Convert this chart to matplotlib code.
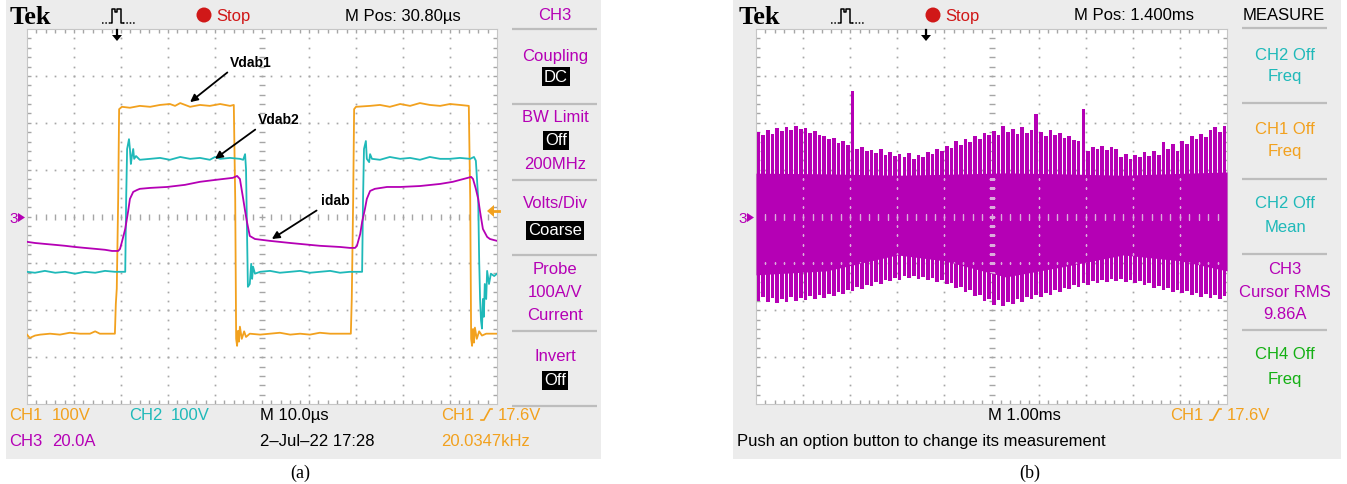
import numpy as np
import matplotlib
matplotlib.use("Agg")
import matplotlib.pyplot as plt
from matplotlib.patches import Rectangle, Circle, Polygon

# ---------------- panel (a): 10 us/div, screen spans 0..100 us ----------------
vdab1_t = [0, 0.6, 1.7, 2.8, 4.9, 7.0, 9.1, 11.3, 13.4, 14.5, 15.5, 17.7, 18.7, 18.9, 19.1, 19.4, 19.6,
           20.2, 21.9, 24.0, 26.2, 28.3, 30.4, 31.5, 32.6, 34.7, 36.8, 38.9, 41.1, 43.2, 44.0,
           44.3, 44.5, 44.7, 44.9, 45.1, 45.3, 45.7, 46.2, 46.6, 47.4, 49.6, 51.7, 53.8, 56.0, 58.1,
           60.2, 62.3, 64.5, 66.6, 68.9,
           69.1, 69.4, 69.6, 70.0, 73.0, 75.1, 77.2, 79.4, 81.5, 83.6, 85.7, 87.9, 90.0, 92.1, 94.0,
           94.3, 94.5, 94.7, 94.9, 95.1, 95.3, 95.7, 96.2, 96.8, 97.7, 100.0]
vdab1_v = [-245, -252, -247, -245, -243, -245, -241, -243, -243, -238, -243, -243, -243, -179, -147, 45, 236,
           241, 239, 243, 241, 245, 247, 243, 249, 241, 245, 243, 247, 243, 245,
           45, -254, -269, -237, -260, -228, -254, -238, -250, -243, -245, -243, -241, -245, -243,
           -245, -241, -243, -243, -243,
           -169, 45, 236, 241, 243, 245, 241, 247, 243, 249, 245, 243, 247, 245, 243,
           45, -254, -269, -233, -262, -230, -254, -238, -247, -243, -243]

vdab2_t = [0, 1.7, 3.8, 6.0, 8.1, 10.2, 12.3, 14.5, 16.6, 18.7, 20.9,
           21.1, 21.3, 21.7, 21.9, 22.1, 22.3, 22.6, 22.8, 23.2, 24.0, 26.2, 28.3, 30.4, 32.6, 34.7,
           36.8, 38.9, 40.0, 41.1, 43.2, 45.3, 46.0,
           46.4, 46.6, 46.8, 47.0, 47.4, 47.7, 47.9, 48.1, 48.5, 49.6, 51.7, 53.8, 56.0, 58.1, 60.2,
           62.3, 64.5, 66.6, 68.7, 71.3,
           71.5, 71.7, 72.1, 72.3, 72.8, 73.0, 73.4, 75.1, 77.2, 79.4, 81.5, 83.6, 85.7, 87.9, 90.0,
           92.1, 94.3, 95.1,
           95.5, 96.0, 96.2, 96.4, 96.6, 96.8, 97.0, 97.2, 97.4, 97.7, 97.9, 98.3, 98.7, 99.4, 100.0]
vdab2_v = [-118, -120, -116, -120, -118, -122, -118, -120, -116, -118, -118,
           38, 144, 165, 144, 112, 127, 144, 123, 129, 121, 123, 125, 121, 127, 123,
           125, 121, 127, 123, 125, 123, 121,
           133, 101, -26, -150, -144, -101, -133, -107, -122, -118, -116, -120, -118, -116, -120,
           -118, -116, -120, -118, -118,
           38, 144, 161, 123, 116, 133, 123, 121, 127, 123, 125, 121, 127, 123, 123,
           125, 123, 127,
           119, 38, -90, -176, -222, -239, -176, -214, -144, -176, -116, -144, -122, -127, -122]

idab_t = [0, 1.7, 3.8, 6.0, 8.1, 10.2, 12.3, 14.5, 16.6, 18.1, 19.4,
          19.8, 20.2, 20.9, 21.5, 21.9, 22.6, 23.4, 24.0, 26.2, 29.8, 33.6, 36.8, 40.0, 43.8, 44.7,
          45.3, 46.0, 46.4, 46.8, 47.4, 48.5, 51.7, 56.0, 62.3, 66.6, 68.7, 69.8,
          70.2, 70.9, 71.3, 71.9, 72.3, 73.0, 74.0, 76.6, 79.4, 83.6, 87.9, 90.6, 93.8, 94.5,
          94.9, 95.5, 96.0, 96.4, 97.0, 97.9, 98.5, 100.0]
idab_i = [-10.8, -11.3, -11.7, -12.1, -12.5, -13.0, -13.4, -13.8, -14.2, -14.7, -14.7,
          -13.8, -10.8, -5.3, 2.0, 7.5, 10.5, 11.3, 11.8, 12.2, 12.6, 13.5, 14.8, 15.6, 16.5, 17.3,
          16.0, 7.5, 2.4, -2.3, -8.3, -9.6, -10.4, -11.3, -12.5, -13.0, -13.4, -13.4,
          -12.5, -7.4, -2.3, 3.2, 7.5, 10.9, 11.8, 12.6, 12.6, 13.0, 13.9, 14.8, 16.5, 16.9,
          16.0, 11.8, 7.5, 2.0, -5.3, -8.7, -9.6, -10.4]

# ---------------- panel (b): 1 ms/div, 100 display columns of 0.1 ms ----------------
band_top = [36.1, 34.8, 36.9, 35.2, 37.8, 36.5, 38.2, 36.9, 38.6, 37.4,
            37.8, 35.6, 36.5, 34.8, 34.4, 33.1, 33.5, 31.4, 32.2, 30.5,
            53.6, 28.8, 29.7, 28.0, 28.4, 27.1, 28.8, 26.3, 27.5, 25.8,
            26.7, 25.4, 27.1, 24.6, 26.3, 25.4, 27.5, 26.7, 28.8, 28.0,
            30.1, 29.3, 32.2, 30.5, 33.1, 31.8, 34.4, 33.1, 35.6, 34.8,
            36.5, 34.8, 38.6, 36.1, 37.4, 35.2, 38.2, 35.6, 36.9, 43.7,
            36.1, 34.4, 36.9, 34.8, 35.6, 33.5, 34.4, 32.7, 32.2, 45.9,
            28.0, 29.7, 28.8, 30.1, 28.4, 29.7, 28.8, 25.4, 26.7, 24.6,
            26.3, 25.4, 27.5, 25.8, 28.0, 26.3, 31.8, 28.8, 31.0, 28.0,
            32.2, 31.0, 34.4, 33.1, 35.2, 33.9, 36.9, 38.2, 36.1, 38.6]
band_bot = [-36.0, -34.3, -36.4, -34.7, -36.8, -35.1, -36.4, -34.3, -36.0, -34.7,
            -35.6, -33.9, -35.1, -33.4, -34.7, -33.0, -33.9, -32.2, -33.0, -31.3,
            -31.7, -30.0, -30.9, -29.2, -29.6, -27.9, -28.7, -27.0, -27.5, -26.2,
            -27.0, -25.3, -26.2, -25.3, -26.6, -25.8, -27.0, -26.2, -27.9, -27.0,
            -28.7, -28.3, -30.4, -30.0, -32.2, -31.3, -33.9, -33.4, -36.0, -35.1,
            -37.7, -35.6, -38.1, -36.4, -37.3, -35.1, -36.4, -34.3, -35.1, -33.4,
            -34.3, -32.6, -33.4, -31.3, -32.2, -30.4, -30.9, -29.2, -30.0, -28.3,
            -29.2, -27.5, -28.3, -27.0, -27.9, -26.6, -27.5, -26.6, -27.9, -27.0,
            -28.3, -27.5, -29.2, -28.3, -30.4, -29.6, -31.3, -30.4, -32.2, -31.3,
            -32.6, -31.7, -33.4, -32.6, -34.3, -33.0, -34.7, -33.4, -35.1, -33.9]
core_t = [0.0, 1.5, 3.0, 4.0, 5.3, 6.5, 7.8, 9.0, 10.0]
core_top = [18.5, 18.2, 17.6, 18.0, 18.6, 18.2, 17.6, 18.4, 19.0]
core_bot = [-24.9, -23.2, -16.4, -18.9, -25.8, -21.5, -16.4, -18.9, -23.2]

# channel scale (units/div) and vertical position (div)
CH1_SCALE, CH1_POS = 100.0, -0.07
CH2_SCALE, CH2_POS = 100.0, 0.0
CH3_SCALE, CH3_POS = 20.0, 0.0

# ---------------- styling ----------------
W, H = 1347, 485
ORANGE = '#f2a11e'
CYAN = '#1fb9b9'
MAGENTA = '#b500b5'
GREEN = '#14b014'
RED = '#d01818'
BEZEL = '#ececec'
GRID = '#a6a6a6'
GRID_ON_TRACE = '#dcaadc'
SEP = '#bdbdbd'
SANS = ['Liberation Sans', 'DejaVu Sans']
SERIF = 'Liberation Serif'
FS = 12
ROW1, ROW2 = 416, 442

fig = plt.figure(figsize=(W / 100, H / 100), dpi=100)
fig.patch.set_facecolor('white')


def px_rect(x0, y0, x1, y1):
    return [x0 / W, 1 - y1 / H, (x1 - x0) / W, (y1 - y0) / H]


bg = fig.add_axes([0, 0, 1, 1], zorder=0)
bg.set_xlim(0, W)
bg.set_ylim(H, 0)
bg.axis('off')

fg = fig.add_axes([0, 0, 1, 1], zorder=5)
fg.set_xlim(0, W)
fg.set_ylim(H, 0)
fg.axis('off')
fg.patch.set_visible(False)

# instrument bezels
for x0, x1 in ((6, 601), (733, 1341)):
    bg.add_patch(Rectangle((x0, 0), x1 - x0, 460, fc=BEZEL, ec='none'))


def txt(x, y, s, color='black', size=FS, ha='left', **kw):
    bg.text(x, y, s, color=color, fontsize=size, ha=ha, va='center', family=SANS, **kw)


def boxed(x, y, s):
    bg.text(x, y, s, color='white', fontsize=FS, ha='center', va='center', family=SANS,
            bbox=dict(boxstyle='square,pad=0.12', fc='black', ec='none'))


def trig_icon(x0, y0):
    bg.plot([x0, x0 + 9], [y0, y0], color='black', lw=1.1, ls=(0, (1, 1.2)))
    bg.plot([x0 + 9, x0 + 10, x0 + 10, x0 + 13, x0 + 13, x0 + 15, x0 + 15, x0 + 19, x0 + 19, x0 + 21],
            [y0, y0, y0 - 14, y0 - 14, y0 - 11, y0 - 11, y0 - 14, y0 - 14, y0, y0], color='black', lw=1.1)
    bg.plot([x0 + 21, x0 + 33], [y0, y0], color='black', lw=1.1, ls=(0, (1, 1.2)))


def slope_icon(x0, y0, color):
    bg.plot([x0, x0 + 3, x0 + 9, x0 + 11], [y0 + 5, y0 + 5, y0 - 6, y0 - 6], color=color, lw=1.2)


def header(x_off, mpos, menu_title, menu_color):
    bg.text(10 + x_off, 17, 'Tek', fontsize=19, fontweight='bold', family=SERIF, va='center', ha='left')
    trig_icon(102 + x_off, 24)
    bg.add_patch(Circle((204 + x_off, 16), 7.5, fc=RED, ec='none'))
    txt(216 + x_off, 16, 'Stop', RED)
    txt(345 + x_off, 16, mpos)
    txt(555 + x_off, 16, menu_title, menu_color, ha='center')


def trigger_readout(x_off):
    txt(441 + x_off, ROW1, 'CH1', ORANGE)
    slope_icon(481 + x_off, ROW1, ORANGE)
    txt(498 + x_off, ROW1, '17.6V', ORANGE)


def separators(x0, x1, ys):
    for y in ys:
        bg.plot([x0, x1], [y, y], color=SEP, lw=1.6, solid_capstyle='butt')


# ----- panel (a) frame texts -----
header(0, 'M Pos: 30.80\u00b5s', 'CH3', MAGENTA)
separators(512, 597, [30, 105, 181, 256, 332, 407])
txt(555, 57, 'Coupling', MAGENTA, ha='center')
boxed(556, 77, 'DC')
txt(555, 118, 'BW Limit', MAGENTA, ha='center')
boxed(556, 141, 'Off')
txt(555, 165, '200MHz', MAGENTA, ha='center')
txt(555, 204, 'Volts/Div', MAGENTA, ha='center')
boxed(555, 231, 'Coarse')
txt(555, 270, 'Probe', MAGENTA, ha='center')
txt(555, 293, '100A/V', MAGENTA, ha='center')
txt(555, 316, 'Current', MAGENTA, ha='center')
txt(555, 357, 'Invert', MAGENTA, ha='center')
boxed(555, 381, 'Off')

txt(9, ROW1, 'CH1', ORANGE)
txt(52, ROW1, '100V', ORANGE)
txt(129, ROW1, 'CH2', CYAN)
txt(171, ROW1, '100V', CYAN)
txt(260, ROW1, 'M 10.0\u00b5s')
trigger_readout(0)
txt(9, ROW2, 'CH3', MAGENTA)
txt(52, ROW2, '20.0A', MAGENTA)
txt(260, ROW2, '2\u2013Jul\u201322 17:28')
txt(441, ROW2, '20.0347kHz', ORANGE)
bg.text(300, 473, '(a)', fontsize=13, family=SERIF, ha='center', va='center')

# ----- panel (b) frame texts -----
header(729, 'M Pos: 1.400ms', 'MEASURE', 'black')
separators(1242, 1327, [29, 104, 180, 255, 331])
txt(1285, 55, 'CH2 Off', CYAN, ha='center')
txt(1285, 77, 'Freq', CYAN, ha='center')
txt(1285, 130, 'CH1 Off', ORANGE, ha='center')
txt(1285, 152, 'Freq', ORANGE, ha='center')
txt(1285, 204, 'CH2 Off', CYAN, ha='center')
txt(1285, 228, 'Mean', CYAN, ha='center')
txt(1285, 270, 'CH3', MAGENTA, ha='center')
txt(1285, 293, 'Cursor RMS', MAGENTA, ha='center')
txt(1285, 315, '9.86A', MAGENTA, ha='center')
txt(1285, 355, 'CH4 Off', GREEN, ha='center')
txt(1285, 380, 'Freq', GREEN, ha='center')

txt(988, ROW1, 'M 1.00ms')
trigger_readout(729)
txt(737, ROW2, 'Push an option button to change its measurement')
bg.text(1030, 473, '(b)', fontsize=13, family=SERIF, ha='center', va='center')

# channel-3 ground markers, trigger position and level markers
for x0 in (8, 737):
    txt(x0 + 1, 219, '3', MAGENTA, size=11)
    bg.add_patch(Polygon([(x0 + 10, 214), (x0 + 17, 218.5), (x0 + 10, 223)], fc=MAGENTA, ec='none'))
for xc in (117, 926):
    fg.plot([xc, xc], [31, 37], color='black', lw=1.6)
    fg.add_patch(Polygon([(xc - 5, 36), (xc + 5, 36), (xc, 42)], fc='black', ec='none'))
fg.add_patch(Polygon([(487, 212), (494, 206), (494, 218)], fc=ORANGE, ec='none'))
fg.plot([493, 499], [212, 212], color=ORANGE, lw=2)

# ---------------- scope screens ----------------
axA = fig.add_axes(px_rect(27, 30, 497, 405), zorder=2)
axB = fig.add_axes(px_rect(756, 30, 1227, 405), zorder=2)
axA.set_xlim(0, 100)
axB.set_xlim(0, 10)
for ax in (axA, axB):
    ax.set_ylim(-4, 4)
    ax.set_facecolor('white')
    ax.set_xticks([])
    ax.set_yticks([])
    for sp in ax.spines.values():
        sp.set_color('#c6c6c6')
        sp.set_linewidth(0.8)


def graticule(ax, z, color=GRID, edges=True):
    tr = ax.transAxes
    fx = np.arange(1, 50) / 50.0
    fy = np.arange(1, 40) / 40.0
    arts = []
    dots = dict(ls='none', marker='s', ms=1.25, mew=0, color=color, transform=tr, zorder=z)
    for j in (1, 2, 3, 4, 6, 7, 8, 9):
        arts += ax.plot(np.full(fy.size, j / 10), fy, **dots)
    for i in (1, 2, 3, 5, 6, 7):
        arts += ax.plot(fx, np.full(fx.size, i / 8), **dots)
    ticks = dict(ls='none', color=color, transform=tr, zorder=z, mew=1.0)
    arts += ax.plot(fx, np.full(fx.size, 0.5), marker='|', ms=4.3, **ticks)
    arts += ax.plot(np.full(fy.size, 0.5), fy, marker='_', ms=4.3, **ticks)
    if edges:
        arts += ax.plot(fx, np.zeros(fx.size), marker='|', ms=6, **ticks)
        arts += ax.plot(fx, np.ones(fx.size), marker='|', ms=6, **ticks)
        arts += ax.plot(np.zeros(fy.size), fy, marker='_', ms=6, **ticks)
        arts += ax.plot(np.ones(fy.size), fy, marker='_', ms=6, **ticks)
    return arts


graticule(axA, 1)
graticule(axB, 1)

# panel (a) waveforms
axA.plot(vdab1_t, np.array(vdab1_v) / CH1_SCALE + CH1_POS, color=ORANGE, lw=1.3, zorder=3)
axA.plot(vdab2_t, np.array(vdab2_v) / CH2_SCALE + CH2_POS, color=CYAN, lw=1.3, zorder=3)
axA.plot(idab_t, np.array(idab_i) / CH3_SCALE + CH3_POS, color=MAGENTA, lw=1.3, zorder=4)

arrow = dict(arrowstyle='-|>', color='black', lw=1.3, mutation_scale=11, shrinkA=1, shrinkB=0)
lab = dict(fontsize=10, fontweight='bold', family=SANS, ha='center', va='center', zorder=7)
axA.annotate('Vdab1', xy=(34.7, 2.44), xytext=(47.6, 3.30),
             arrowprops=dict(arrow, relpos=(0.05, 0.0)), **lab)
axA.annotate('Vdab2', xy=(40.0, 1.23), xytext=(53.6, 2.08),
             arrowprops=dict(arrow, relpos=(0.05, 0.0)), **lab)
axA.annotate('idab', xy=(52.1, -0.48), xytext=(65.5, 0.35),
             arrowprops=dict(arrow, relpos=(0.05, 0.0)), **lab)

# panel (b): decimated display of the current
col_t = (np.arange(len(band_top)) + 0.5) * 0.1
axB.bar(col_t, np.array(band_top) / CH3_SCALE + CH3_POS, width=0.078, color=MAGENTA, lw=0, zorder=3)
axB.bar(col_t, np.array(band_bot) / CH3_SCALE + CH3_POS, width=0.078, color=MAGENTA, lw=0, zorder=3)
core = axB.fill_between(core_t, np.array(core_bot) / CH3_SCALE + CH3_POS,
                        np.array(core_top) / CH3_SCALE + CH3_POS, color=MAGENTA, lw=0, zorder=3)
core_path = core.get_paths()[0]
for art in graticule(axB, 4, GRID_ON_TRACE, edges=False):
    art.set_clip_path(core_path, axB.transData)

fig.savefig('out.png', dpi=100, facecolor=fig.get_facecolor())
